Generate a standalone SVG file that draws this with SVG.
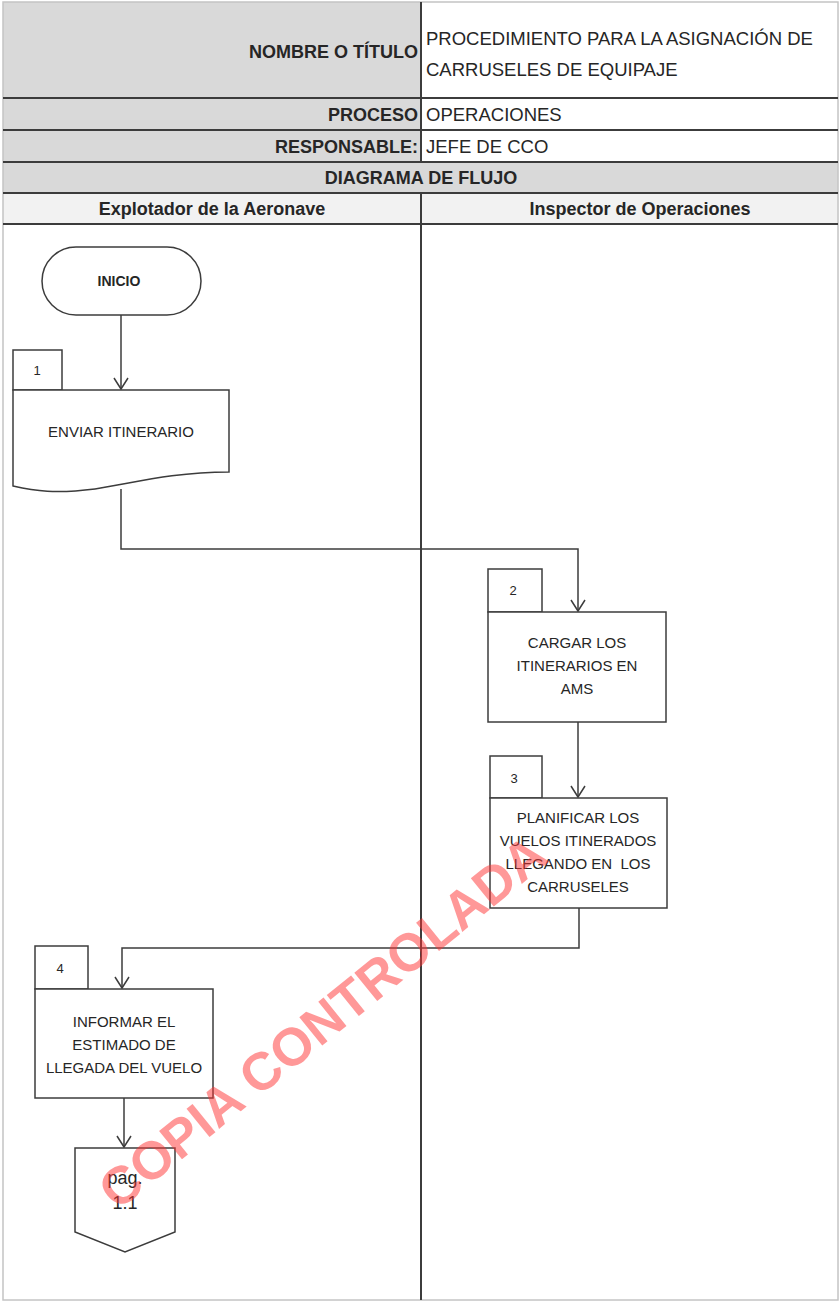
<svg xmlns="http://www.w3.org/2000/svg" width="840" height="1302" viewBox="0 0 840 1302">
<style>
.t{font-family:"Liberation Sans",Arial,sans-serif;fill:#262626}
.hb{font-size:18px;font-weight:bold}
.hr{font-size:18.5px}
.bx{font-size:15px;text-anchor:middle}
.num{font-size:13px;text-anchor:middle}
.shape{fill:#ffffff;stroke:#3c3c3c;stroke-width:1.5}
.grid{stroke:#3c3c3c;stroke-width:2}
.conn{fill:none;stroke:#3c3c3c;stroke-width:1.5}
</style>
<defs>
<marker id="arr" markerUnits="userSpaceOnUse" markerWidth="18" markerHeight="18" viewBox="0 0 18 18" refX="12" refY="8" orient="auto">
<path d="M1,1 L12,8 L1,15" fill="none" stroke="#3c3c3c" stroke-width="1.5"/>
</marker>
</defs>
<rect x="0" y="0" width="840" height="1302" fill="#ffffff"/>
<g id="header">
<rect x="3" y="2" width="418" height="160" fill="#d9d9d9"/>
<rect x="421" y="2" width="417" height="160" fill="#ffffff"/>
<rect x="3" y="162" width="835" height="31" fill="#d9d9d9"/>
<rect x="3" y="193" width="835" height="31" fill="#f2f2f2"/>
<rect x="3" y="2" width="835" height="1298" fill="none" stroke="#c4c4c4" stroke-width="1.5"/>
<line class="grid" x1="3" y1="98" x2="838" y2="98"/>
<line class="grid" x1="3" y1="130" x2="838" y2="130"/>
<line class="grid" x1="3" y1="162" x2="838" y2="162"/>
<line class="grid" x1="3" y1="193" x2="838" y2="193"/>
<line class="grid" x1="3" y1="224" x2="838" y2="224"/>
<line class="grid" x1="421" y1="2" x2="421" y2="162"/>
<line class="grid" x1="421" y1="193" x2="421" y2="1300"/>
<text class="t hb" x="418" y="58" text-anchor="end">NOMBRE O TÍTULO</text>
<text class="t hr" x="426" y="45">PROCEDIMIENTO PARA LA ASIGNACIÓN DE</text>
<text class="t hr" x="426" y="76">CARRUSELES DE EQUIPAJE</text>
<text class="t hb" x="418" y="121" text-anchor="end">PROCESO</text>
<text class="t hr" x="426" y="121">OPERACIONES</text>
<text class="t hb" x="418" y="153" text-anchor="end">RESPONSABLE:</text>
<text class="t hr" x="426" y="153">JEFE DE CCO</text>
<text class="t hb" x="421" y="184" text-anchor="middle">DIAGRAMA DE FLUJO</text>
<text class="t hb" x="212" y="215" text-anchor="middle">Explotador de la Aeronave</text>
<text class="t hb" x="640" y="215" text-anchor="middle">Inspector de Operaciones</text>
</g>
<g id="connectors">
<path class="conn" d="M121,315 V389" marker-end="url(#arr)"/>
<path class="conn" d="M121,489 V549 H578 V611" marker-end="url(#arr)"/>
<path class="conn" d="M578,722 V797" marker-end="url(#arr)"/>
<path class="conn" d="M579,908 V948 H122 V988" marker-end="url(#arr)"/>
<path class="conn" d="M124,1098 V1147" marker-end="url(#arr)"/>
</g>
<g id="inicio">
<rect class="shape" x="42" y="247" width="159" height="68" rx="34" ry="34"/>
<text class="t" x="119" y="286" font-size="14px" font-weight="bold" text-anchor="middle">INICIO</text>
</g>
<g id="step1">
<rect class="shape" x="13" y="350" width="49" height="40"/>
<path class="shape" d="M13,390 H229 V472 C170,472 130,484 95,489 C55,494 35,491 13,486 Z"/>
<text class="t num" x="37" y="375">1</text>
<text class="t bx" x="121" y="437">ENVIAR ITINERARIO</text>
</g>
<g id="step2">
<rect class="shape" x="488" y="569" width="54" height="43"/>
<rect class="shape" x="488" y="612" width="178" height="110"/>
<text class="t num" x="513" y="595">2</text>
<text class="t bx" x="577" y="648">CARGAR LOS</text>
<text class="t bx" x="577" y="671">ITINERARIOS EN</text>
<text class="t bx" x="577" y="694">AMS</text>
</g>
<g id="step3">
<rect class="shape" x="490" y="756" width="52" height="42"/>
<rect class="shape" x="490" y="798" width="177" height="110"/>
<text class="t num" x="514" y="783">3</text>
<text class="t bx" x="578" y="823">PLANIFICAR LOS</text>
<text class="t bx" x="578" y="846">VUELOS ITINERADOS</text>
<text class="t bx" x="578" y="869" xml:space="preserve">LLEGANDO EN  LOS</text>
<text class="t bx" x="578" y="892">CARRUSELES</text>
</g>
<g id="step4">
<rect class="shape" x="35" y="946" width="53" height="43"/>
<rect class="shape" x="35" y="989" width="178" height="109"/>
<text class="t num" x="60" y="973">4</text>
<text class="t bx" x="124" y="1027">INFORMAR EL</text>
<text class="t bx" x="124" y="1050">ESTIMADO DE</text>
<text class="t bx" x="124" y="1073">LLEGADA DEL VUELO</text>
</g>
<g id="offpage">
<polygon class="shape" points="75,1148 175,1148 175,1232 125,1252 75,1232"/>
<text class="t" x="125" y="1184" font-size="18px" text-anchor="middle">pag.</text>
<text class="t" x="125" y="1209" font-size="18px" text-anchor="middle">1.1</text>
</g>
<g id="watermark" opacity="0.5">
<text transform="translate(334,1036) rotate(-39)" x="0" y="0" text-anchor="middle" font-family="'Liberation Sans',Arial,sans-serif" font-size="53px" font-weight="bold" fill="#ff3333">COPIA CONTROLADA</text>
</g>
</svg>
